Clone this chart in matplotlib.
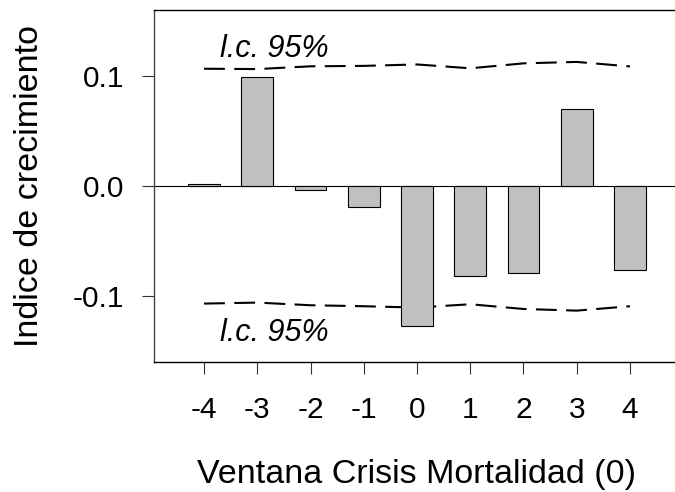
import matplotlib
matplotlib.use('Agg')
import matplotlib.pyplot as plt
import numpy as np

# datos
ventana = [-4, -3, -2, -1, 0, 1, 2, 3, 4]
indice = [0.002, 0.099, -0.004, -0.019, -0.127, -0.082, -0.079, 0.070, -0.076]
ic_sup = [0.1066, 0.1063, 0.1088, 0.1092, 0.1105, 0.1070, 0.1115, 0.1128, 0.1087]
ic_inf = [-0.1069, -0.1060, -0.1084, -0.1093, -0.1105, -0.1075, -0.1118, -0.1133, -0.1093]
yticks = [-0.1, 0.0, 0.1]
ytick_labels = ['-0.1', '0.0', '0.1']

plt.rcParams['font.family'] = ['Liberation Sans', 'DejaVu Sans']

fig = plt.figure(figsize=(6.75, 4.92), dpi=100)
# eje: izquierda 154px, derecha ~680px (recortado), arriba 10px, abajo 362px
ax = fig.add_axes([154 / 675, 1 - 362 / 492, (680 - 154) / 675, (362 - 10) / 492])

ax.plot(ventana, ic_sup, color='black', lw=1.5, dashes=(10, 4.5), zorder=1)
ax.plot(ventana, ic_inf, color='black', lw=1.5, dashes=(10, 4.5), zorder=1)
ax.axhline(0, color='black', lw=0.8, zorder=2)
ax.bar(ventana, indice, width=0.6, color='#C0C0C0', edgecolor='black', linewidth=0.8, zorder=3)

ax.text(-3.70, 0.1175, 'l.c. 95%', fontsize=22, style='italic', ha='left', va='baseline')
ax.text(-3.70, -0.1412, 'l.c. 95%', fontsize=22, style='italic', ha='left', va='baseline')

ax.set_xlim(-4.94, 4.94)
ax.set_ylim(-0.16, 0.16)
ax.set_xticks(ventana)
ax.set_xticklabels([str(v) for v in ventana])
ax.set_yticks(yticks)
ax.set_yticklabels(ytick_labels)
ax.tick_params(axis='x', length=8.6, width=0.8, pad=16, labelsize=21.5, color='#333333')
ax.tick_params(axis='y', length=8.6, width=0.8, pad=13, labelsize=21.5, color='#333333')

ax.spines['right'].set_visible(False)
for s in ['left', 'top', 'bottom']:
    ax.spines[s].set_linewidth(1.0)
ax.spines['left'].set_color('#444444')

ax.set_xlabel('Ventana Crisis Mortalidad (0)', fontsize=24.5, labelpad=25)
ax.set_ylabel('Indice de crecimiento', fontsize=24.5, labelpad=20)

fig.savefig('out.png', dpi=100)
